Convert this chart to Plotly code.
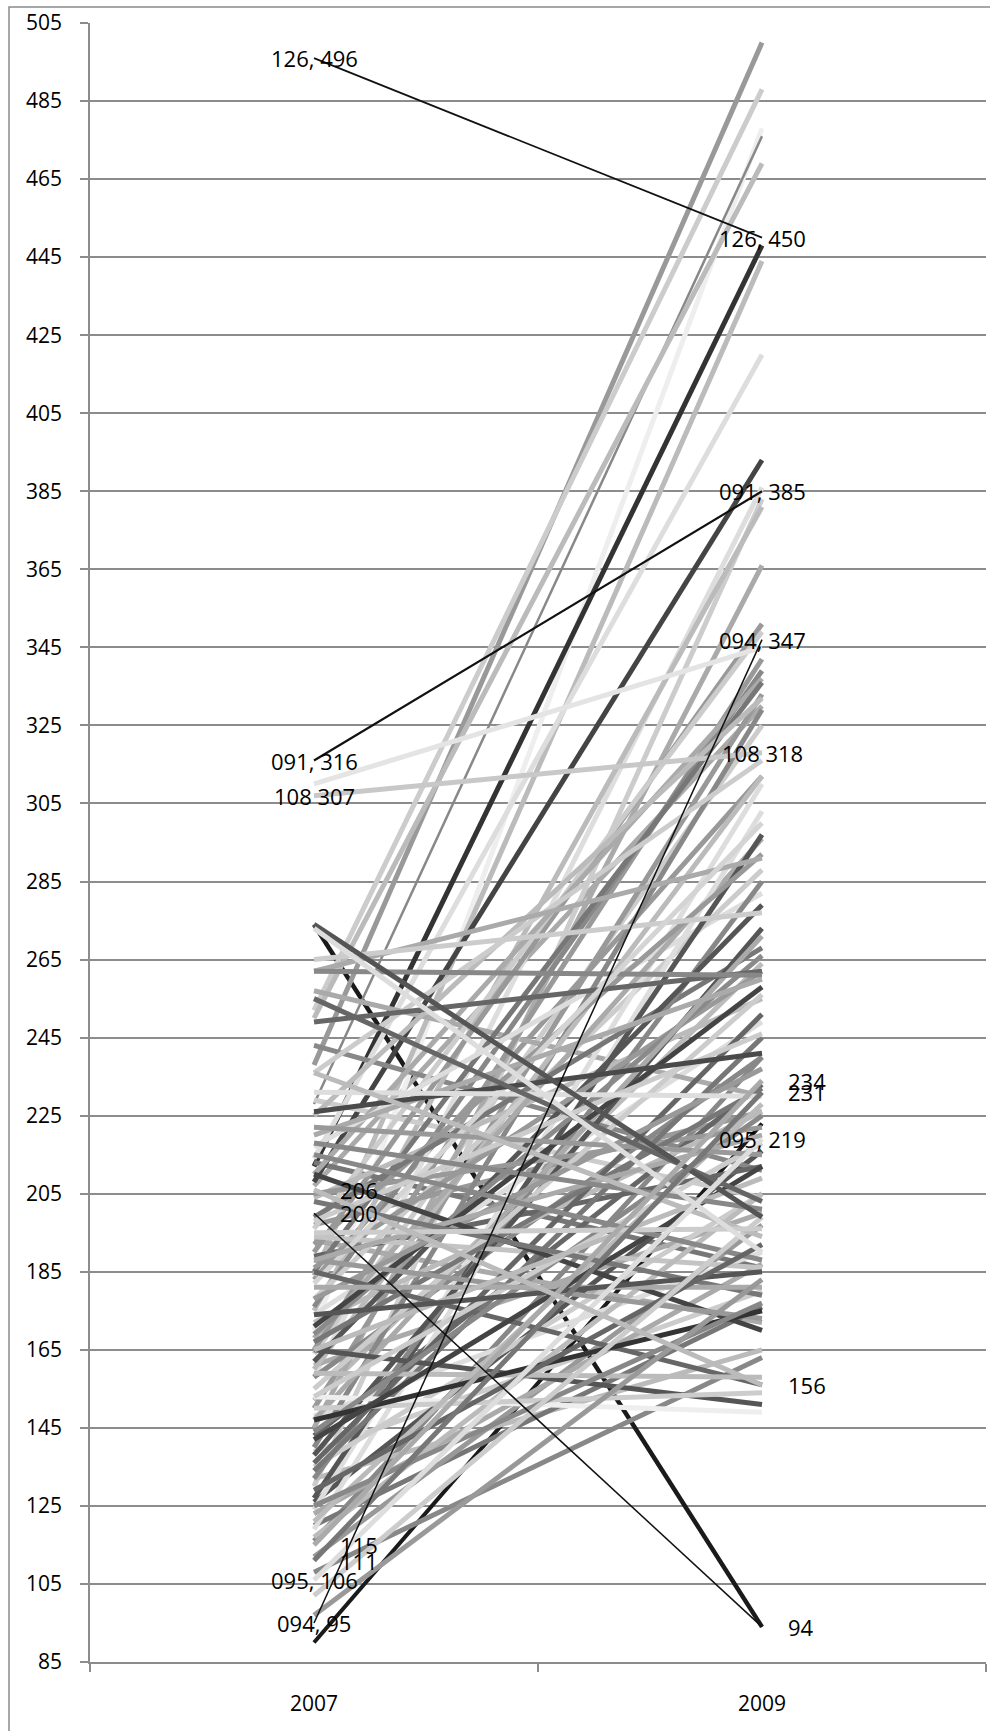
import plotly.graph_objects as go

# ---------------- data ----------------
years = ["2007", "2009"]

# background (grey) series: value in 2007, value in 2009
v2007 = [238, 252, 170, 228, 250, 212, 184, 214, 208, 158, 130, 175, 145, 190, 196,
         165, 176, 210, 185, 150, 225, 140, 236, 160, 124, 119, 127, 192, 262, 132,
         162, 265, 138, 147, 249, 262, 171, 155, 136, 198, 226, 178, 167, 231, 121,
         144, 188, 153, 222, 142, 165, 255, 218, 102, 274, 273, 195, 236, 129, 215,
         174, 97, 181, 203, 125, 147, 188, 210, 159, 185, 150, 165, 153, 220, 134,
         182, 205, 117, 194, 169,
         186, 172, 199, 123, 135, 158, 168, 178, 143, 204, 217, 112, 120, 132, 189,
         161, 148, 108, 197, 229, 243, 257, 126, 174, 193, 213, 139, 183, 152, 116,
         164, 207]
v2009 = [500, 488, 478, 476, 469, 448, 444, 420, 393, 386, 383, 381, 366, 351, 349,
         342, 339, 337, 336, 333, 332, 329, 316, 312, 310, 303, 297, 292, 291, 285,
         279, 277, 273, 271, 262, 261, 258, 256, 251, 246, 241, 237, 232, 230, 228,
         225, 220, 218, 215, 212, 209, 203, 201, 199, 199, 190, 196, 194, 192, 188,
         185, 183, 181, 179, 177, 175, 173, 170, 158, 156, 154, 151, 149, 260, 245,
         300, 222, 205, 186, 266,
         262, 226, 268, 187, 205, 240, 296, 288, 233, 255, 282, 197, 176, 165, 212,
         200, 190, 163, 226, 204, 211, 230, 216, 249, 172, 186, 180, 312, 264, 240,
         325, 330]
line_colors = ["#999999", "#cccccc", "#eeeeee", "#888888", "#bbbbbb", "#333333", "#bbbbbb",
               "#dddddd", "#444444", "#dddddd", "#cccccc", "#bbbbbb", "#aaaaaa", "#999999",
               "#cccccc", "#999999", "#888888", "#aaaaaa", "#777777", "#999999", "#bbbbbb",
               "#888888", "#cccccc", "#bbbbbb", "#dddddd", "#dddddd", "#555555", "#999999",
               "#aaaaaa", "#888888", "#555555", "#cccccc", "#555555", "#aaaaaa", "#666666",
               "#888888", "#444444", "#cccccc", "#666666", "#cccccc", "#4a4a4a", "#999999",
               "#777777", "#dddddd", "#bbbbbb", "#888888", "#aaaaaa", "#cccccc", "#999999",
               "#444444", "#bbbbbb", "#666666", "#888888", "#cccccc", "#555555", "#dddddd",
               "#cccccc", "#bbbbbb", "#666666", "#888888", "#555555", "#999999", "#aaaaaa",
               "#777777", "#888888", "#333333", "#999999", "#444444", "#bbbbbb", "#666666",
               "#cccccc", "#555555", "#eeeeee", "#aaaaaa", "#777777", "#d4d4d4", "#999999",
               "#bbbbbb", "#c4c4c4", "#8a8a8a",
               "#999999", "#bbbbbb", "#777777", "#aaaaaa", "#cccccc", "#888888", "#aaaaaa",
               "#cccccc", "#666666", "#bbbbbb", "#dddddd", "#999999", "#777777", "#bbbbbb",
               "#666666", "#aaaaaa", "#dddddd", "#888888", "#999999", "#cccccc", "#888888",
               "#aaaaaa", "#555555", "#dddddd", "#aaaaaa", "#777777", "#cccccc", "#999999",
               "#bbbbbb", "#888888", "#cccccc", "#aaaaaa"]
line_widths = [5.0] * len(v2007)
line_widths[3] = 2.5

# highlighted series
hl_2007 = [496, 316, 307, 310, 95, 90, 200, 274, 206, 115, 111, 106]
hl_2009 = [450, 385, 318, 345, 347, 223, 94, 94, 156, 234, 231, 219]
hl_colors = ["#111111", "#111111", "#c8c8c8", "#e4e4e4", "#111111", "#1a1a1a",
             "#111111", "#1a1a1a", "#bbbbbb", "#aaaaaa", "#777777", "#dddddd"]
hl_widths = [1.8, 2.2, 5.0, 5.0, 1.5, 4.0, 1.5, 4.5, 5.0, 5.0, 5.0, 5.0]

# data labels: (series index, year index, text, centered?)
labels = [(0, 0, "126, 496", True), (0, 1, "126, 450", True),
          (1, 0, "091, 316", True), (1, 1, "091, 385", True),
          (2, 0, "108 307", True), (2, 1, "108 318", True),
          (4, 0, "094, 95", True), (4, 1, "094, 347", True),
          (11, 0, "095, 106", True), (11, 1, "095, 219", True),
          (9, 0, "115", False), (10, 0, "111", False),
          (8, 0, "206", False), (6, 0, "200", False),
          (9, 1, "234", False), (10, 1, "231", False),
          (8, 1, "156", False), (6, 1, "94", False)]

y_ticks = list(range(85, 506, 20))

# ---------------- figure ----------------
FONT = "Open Sans, Liberation Sans, sans-serif"
GRID = "#8c8c8c"
fig = go.Figure()
xpos = [0, 1]


def add_line(a, b, color, width):
    fig.add_trace(go.Scatter(x=xpos, y=[a, b], mode="lines",
                             line=dict(color=color, width=width),
                             hoverinfo="skip", showlegend=False))


# series drawn first end up underneath the grey bundle
for i in (7, 5):
    add_line(hl_2007[i], hl_2009[i], hl_colors[i], hl_widths[i])

n = len(v2007)
order = []
a, b = 0, n - 1
while a <= b:
    order.append(b)
    if a != b:
        order.append(a)
    a += 1
    b -= 1
for i in order:
    add_line(v2007[i], v2009[i], line_colors[i], line_widths[i])

for i in (11, 10, 9, 8, 3, 2, 6, 4, 1, 0):
    add_line(hl_2007[i], hl_2009[i], hl_colors[i], hl_widths[i])

for (si, yi, txt, centered) in labels:
    yv = hl_2007[si] if yi == 0 else hl_2009[si]
    fig.add_annotation(x=xpos[yi], y=yv, xref="x", yref="y", text=txt, showarrow=False,
                       xanchor="center" if centered else "left",
                       xshift=0 if centered else 24,
                       font=dict(family=FONT, size=22, color="#000000"))

# outer chart frame
fig.add_shape(type="rect", xref="paper", yref="paper",
              x0=(9 - 90) / 896, x1=1.2, y0=-0.2, y1=(1662 - 7) / 1639,
              line=dict(color="#8a8a8a", width=1.5), fillcolor="rgba(0,0,0,0)", layer="below")

fig.update_layout(
    width=990, height=1731,
    margin=dict(l=90, r=4, t=23, b=69),
    paper_bgcolor="white", plot_bgcolor="white",
    showlegend=False,
    font=dict(family=FONT, size=21, color="#000000"),
    xaxis=dict(range=[-0.5, 1.5], tickmode="array", tickvals=xpos, ticktext=years,
               ticks="", showgrid=False, zeroline=False, showline=True,
               linecolor=GRID, linewidth=1.5, ticklabelstandoff=22,
               tickfont=dict(family=FONT, size=21, color="#000000"),
               minor=dict(tickmode="array", tickvals=[-0.5, 0.5, 1.5], ticks="outside",
                          ticklen=8, tickcolor=GRID, tickwidth=1.5, showgrid=False)),
    yaxis=dict(range=[85, 505], tickmode="array", tickvals=y_ticks,
               showgrid=True, gridcolor=GRID, gridwidth=1.5, zeroline=False,
               showline=True, linecolor=GRID, linewidth=1.5,
               ticks="outside", ticklen=8, tickcolor=GRID, tickwidth=1.5,
               ticklabelstandoff=14,
               tickfont=dict(family=FONT, size=21, color="#000000")),
)

fig.write_html("out.html", config={"displayModeBar": False},
               post_script="document.body.style.margin='0';")
